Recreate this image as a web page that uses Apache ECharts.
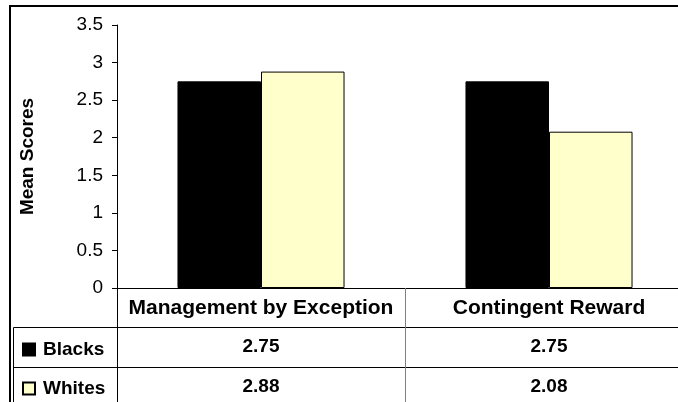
<!DOCTYPE html>
<html>
<head>
<meta charset="utf-8">
<script src="https://cdn.jsdelivr.net/npm/echarts@6/dist/echarts.min.js"></script>
<style>
    html, body { margin: 0; padding: 0; background: #fff; overflow: hidden; }
    /* the reference is cut on the right, so the chart is a bit wider than the window */
    #chart { width: 700px; height: 402px; }
</style>
</head>
<body>
<div id="chart"></div>
<script>
const categories = ['Management by Exception', 'Contingent Reward'];
const seriesNames = ['Blacks', 'Whites'];
const blacks = [2.75, 2.75];
const whites = [2.88, 2.08];
const yMin = 0, yMax = 3.5, yStep = 0.5;

const FONT = '"Liberation Sans", Arial, sans-serif';

// one extra x axis per table row, labels are the values
function tableRow(values, offset) {
    return {
        type: 'category',
        data: categories,
        gridIndex: 0,
        position: 'bottom',
        offset: offset,
        axisLine: { show: true, lineStyle: { color: '#000', width: 1 } },
        axisTick: { show: false },
        axisLabel: {
            margin: 10,
            color: '#000',
            fontFamily: FONT,
            fontWeight: 'bold',
            fontSize: 19,
            formatter: (v, i) => values[i].toFixed(2)
        }
    };
}

function legendRow(name, top) {
    return {
        orient: 'vertical',
        left: 17,
        top: top,
        itemWidth: 12,
        itemHeight: 12,
        icon: 'rect',
        textStyle: {
            color: '#000',
            fontFamily: FONT,
            fontWeight: 'bold',
            fontSize: 19,
            padding: [0, 0, 0, 3]
        },
        data: [name]
    };
}

let myChart = echarts.init(document.getElementById('chart'));
let option = {
    animation: false,
    backgroundColor: '#fff',
    textStyle: { fontFamily: FONT },
    grid: {
        left: 117,
        right: 7,
        top: 25,
        bottom: 114,
        containLabel: false
    },
    legend: [
        legendRow(seriesNames[0], 335),
        legendRow(seriesNames[1], 374)
    ],
    xAxis: [
        {
            type: 'category',
            data: categories,
            axisLine: { show: true, lineStyle: { color: '#000', width: 1 } },
            axisTick: {
                show: true,
                length: 114,
                alignWithLabel: false,
                lineStyle: { color: '#808080', width: 1 }
            },
            axisLabel: {
                margin: 10,
                color: '#000',
                fontFamily: FONT,
                fontWeight: 'bold',
                fontSize: 21,
                interval: 0
            }
        },
        tableRow(blacks, 39),
        tableRow(whites, 79)
    ],
    yAxis: {
        type: 'value',
        min: yMin,
        max: yMax,
        interval: yStep,
        name: 'Mean Scores',
        nameLocation: 'middle',
        nameRotate: 90,
        nameGap: 80,
        nameTextStyle: {
            color: '#000',
            fontFamily: FONT,
            fontWeight: 'bold',
            fontSize: 19
        },
        axisLine: { show: true, lineStyle: { color: '#000', width: 1 } },
        axisTick: { show: true, length: 5, lineStyle: { color: '#000' } },
        splitLine: { show: false },
        axisLabel: {
            margin: 14,
            color: '#000',
            fontFamily: FONT,
            fontSize: 19,
            formatter: v => String(v)
        }
    },
    series: [
        {
            name: 'Blacks',
            type: 'bar',
            data: blacks,
            barGap: 0,
            barCategoryGap: '42%',
            itemStyle: { color: '#000', borderColor: '#000', borderWidth: 1 }
        },
        {
            name: 'Whites',
            type: 'bar',
            data: whites,
            barGap: 0,
            barCategoryGap: '42%',
            itemStyle: { color: '#FFFFCC', borderColor: '#000', borderWidth: 1 }
        }
    ],
    graphic: [
        // outer chart border (cut on the right and bottom)
        {
            type: 'rect',
            shape: { x: 10, y: 6, width: 740, height: 450 },
            style: { fill: null, stroke: '#000', lineWidth: 2 },
            silent: true
        },
        // data table left column
        {
            type: 'polyline',
            shape: { points: [[117.5, 288], [117.5, 410]] },
            style: { stroke: '#000', lineWidth: 1 },
            z: 10, silent: true
        },
        {
            type: 'polyline',
            shape: { points: [[13.5, 410], [13.5, 327.5], [117, 327.5]] },
            style: { stroke: '#000', lineWidth: 1, fill: null },
            silent: true
        },
        {
            type: 'line',
            shape: { x1: 13, y1: 367.5, x2: 117, y2: 367.5 },
            style: { stroke: '#000', lineWidth: 1 },
            silent: true
        }
    ]
};

myChart.setOption(option);
</script>
</body>
</html>
